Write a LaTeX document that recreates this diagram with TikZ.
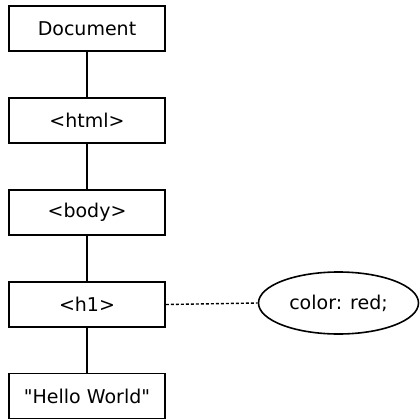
\documentclass[tikz,border=0pt]{standalone}
\usepackage{fontspec}
\setmainfont{DejaVu Sans}[Ligatures=TeXOff]
\usetikzlibrary{shapes.geometric}
\begin{document}
\begin{tikzpicture}[x=1pt,y=-1pt,
  treebox/.style={draw=black,line width=1.6pt,minimum width=156pt,minimum height=45pt,inner sep=0pt,font=\fontsize{19}{22}\selectfont},
  propbubble/.style={draw=black,line width=1.6pt,ellipse,minimum width=160pt,minimum height=62pt,inner sep=0pt,font=\fontsize{19}{22}\selectfont},
  edge/.style={line width=1.6pt},
  link/.style={line width=1.4pt,dash pattern=on 3pt off 2pt}]
  \useasboundingbox (0,0) rectangle (420,420);
  \node[treebox] (doc)  at (87,28.5)  {Document};
  \node[treebox] (html) at (87,120.5) {<html>};
  \node[treebox] (body) at (87,212.5) {<body>};
  \node[treebox] (h1)   at (87,304.5) {<h1>};
  \node[treebox] (txt)  at (87,396)   {"Hello World"};
  \node[propbubble] (css) at (338.5,303) {color: red;};
  \draw[edge] (doc) -- (html);
  \draw[edge] (html) -- (body);
  \draw[edge] (body) -- (h1);
  \draw[edge] (h1) -- (txt);
  \draw[link] (h1.east) -- (css.west);
\end{tikzpicture}
\end{document}
